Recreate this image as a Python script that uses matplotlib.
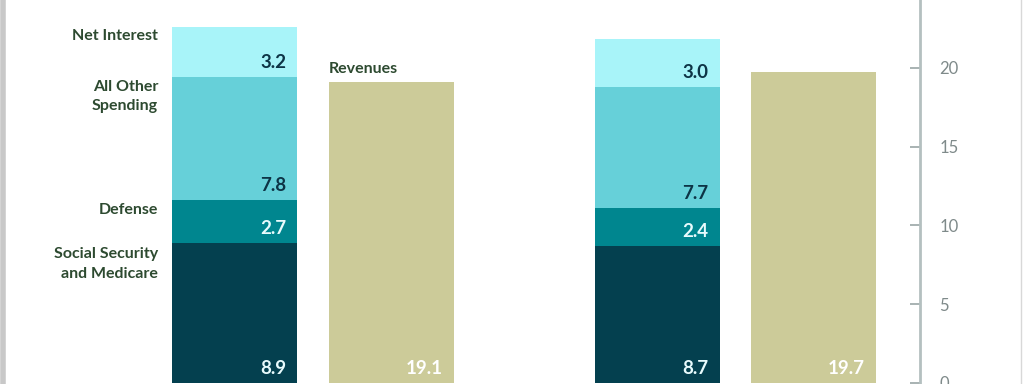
import numpy as np
import matplotlib.pyplot as plt
from matplotlib.lines import Line2D

# spending components (percent of GDP) for two periods
categories = ['Social Security\nand Medicare', 'Defense', 'All Other\nSpending', 'Net Interest']
spend_1 = [8.9, 2.7, 7.8, 3.2]
spend_2 = [8.7, 2.4, 7.7, 3.0]
revenues = [19.1, 19.7]
yticks = [0, 5, 10, 15, 20]

colors = ['#04404f', '#00868f', '#66d0d9', '#a8f4f9']
label_colors = ['#e8fbfd', '#e8fbfd', '#0d3446', '#0d3446']
rev_color = '#cccb99'
text_green = '#2d4a30'

plt.rcParams['font.family'] = ['Lato', 'DejaVu Sans']

fig = plt.figure(figsize=(10.24, 3.84), dpi=100)
ax = fig.add_axes([0, 0.003, 920 / 1024, 0.997])

group_x = [0, 2.7]
width = 0.8

for gx, spend, rev in zip(group_x, [spend_1, spend_2], revenues):
    bottom = 0
    for val, c, lc in zip(spend, colors, label_colors):
        ax.bar(gx, val, width, bottom=bottom, color=c, linewidth=0)
        ax.annotate(f'{val:.1f}', (gx + width / 2, bottom), xytext=(-8, 10.5),
                    textcoords='offset points', ha='right', va='center',
                    color=lc, fontsize=13.5, fontweight='bold')
        bottom += val
    ax.bar(gx + 1, rev, width, color=rev_color, linewidth=0)
    ax.annotate(f'{rev:.1f}', (gx + 1 + width / 2, 0), xytext=(-8, 10.5),
                textcoords='offset points', ha='right', va='center',
                color='white', fontsize=13.5, fontweight='bold')

# category labels next to first stack
cum = np.concatenate([[0], np.cumsum(spend_1)])
label_y = [cum[1] - 0.3, cum[2] - 0.2, cum[3] - 0.15, cum[4] - 0.15]
for lab, y in zip(categories, label_y):
    ax.text(-0.49, y, lab, ha='right', va='top', color=text_green,
            fontsize=11.5, fontweight='bold', linespacing=1.5)
ax.text(1 - width / 2, revenues[0] + 0.35, 'Revenues', ha='left', va='bottom',
        color=text_green, fontsize=11.5, fontweight='bold')

ax.set_xlim(-1.5, 4.38)
ax.set_ylim(0, 24.3)
ax.set_yticks(yticks)
ax.yaxis.tick_right()
ax.tick_params(axis='y', direction='in', length=7, width=1.2, color='#9aa6a6',
               labelcolor='#7f8a8a', labelsize=12, pad=14)
ax.set_xticks([])
for s in ['top', 'left', 'bottom']:
    ax.spines[s].set_visible(False)
ax.spines['right'].set_color('#b4c0c0')
ax.spines['right'].set_linewidth(2)
ax.patch.set_alpha(0)

# frame edges of the original graphic
fig.add_artist(Line2D([0.003, 0.003], [0, 1], color='#c8c8c8', linewidth=4))
fig.add_artist(Line2D([0.997, 0.997], [0, 1], color='#d8d8d8', linewidth=1))

fig.savefig('out.png', dpi=100)
